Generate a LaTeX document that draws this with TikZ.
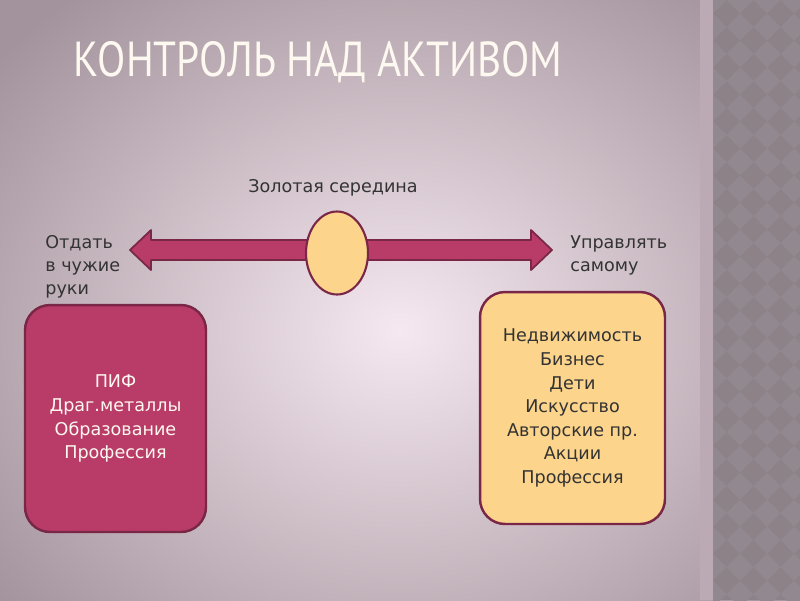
\documentclass[tikz,border=0pt]{standalone}
\usepackage{fontspec}
\setmainfont{DejaVu Sans}
\newfontfamily\ttlfont[FakeStretch=0.84]{PT Sans}
\usetikzlibrary{positioning, shapes.geometric}

\definecolor{bgin}{HTML}{F6E8F0}
\definecolor{bgout}{HTML}{A3939C}
\definecolor{stripband}{HTML}{BBA9B3}
\definecolor{stripdark}{HTML}{8C8287}
\definecolor{striplight}{HTML}{928890}
\definecolor{berry}{HTML}{B93C68}
\definecolor{berryline}{HTML}{7A2747}
\definecolor{sand}{HTML}{FCD48C}
\definecolor{ink}{HTML}{333333}
\definecolor{chalk}{HTML}{FDF8F0}

\begin{document}
\begin{tikzpicture}[x=0.02cm, y=-0.02cm,
  ttl/.style={font=\ttlfont\fontsize{28}{30}\selectfont, text=chalk, inner sep=0},
  lbl/.style={font=\fontsize{10}{13}\selectfont, text=ink, align=left, inner sep=0},
  pinkbox/.style={draw=berryline, line width=1.4pt, fill=berry, rounded corners=0.5cm,
                  minimum width=3.62cm, minimum height=4.54cm, align=center,
                  text=chalk, font=\fontsize{10}{13.6}\selectfont},
  sandbox/.style={draw=berryline, line width=1.4pt, fill=sand, rounded corners=0.5cm,
                  minimum width=3.7cm, minimum height=4.64cm, align=center,
                  text=ink, font=\fontsize{10}{13.4}\selectfont},
  midoval/.style={ellipse, draw=berryline, line width=1.2pt, fill=sand,
                  minimum width=1.24cm, minimum height=1.66cm, inner sep=0},
  twoway/.style={draw=berryline, line width=1pt, fill=berry, line join=round}
]
\useasboundingbox (0,0) rectangle (800,600);
% ----- background -----
\begin{scope}
  \clip (0,0) rectangle (800,600);
  \shade[inner color=bgin, outer color=bgout] (-120,-100) rectangle (920,760);
  \fill[stripband] (700,0) rectangle (713,600);
  \fill[stripdark] (713,0) rectangle (800,600);
  \clip (713,0) rectangle (800,600);
  \foreach \i in {0,...,4}
    \foreach \j in {0,...,23}
      \fill[striplight] (713+27*\i-13.5,27*\j) -- ++(13.5,-13.5) -- ++(13.5,13.5)
                        -- ++(-13.5,13.5) -- cycle;
\end{scope}
% ----- title -----
\node[ttl, anchor=base] (title) at (318,76) {КОНТРОЛЬ НАД АКТИВОМ};
% ----- scale with middle -----
\coordinate (lt) at (130,250);
\coordinate (rt) at (552,250);
\draw[twoway] (lt) -- ++(21,-20) -- ++(0,10) -- ++(380,0) -- ++(0,-10)
  -- (rt) -- ++(-21,20) -- ++(0,-10) -- ++(-380,0) -- ++(0,10) -- cycle;
\node[midoval] (mid) at (337,253) {};
\node[lbl, anchor=base] (gold) at (333,192) {Золотая середина};
\node[lbl, anchor=north west] (give) at (45,235) {Отдать\\в чужие\\руки};
\node[lbl, anchor=north west] (self) at (570,235) {Управлять\\самому};
% ----- the two lists -----
\node[pinkbox] (pif) at (115.5,418.5) {ПИФ\\Драг.металлы\\Образование\\Профессия};
\node[sandbox] (own) at (572.5,408) {Недвижимость\\Бизнес\\Дети\\Искусство\\Авторские пр.\\Акции\\Профессия};
\end{tikzpicture}
\end{document}
